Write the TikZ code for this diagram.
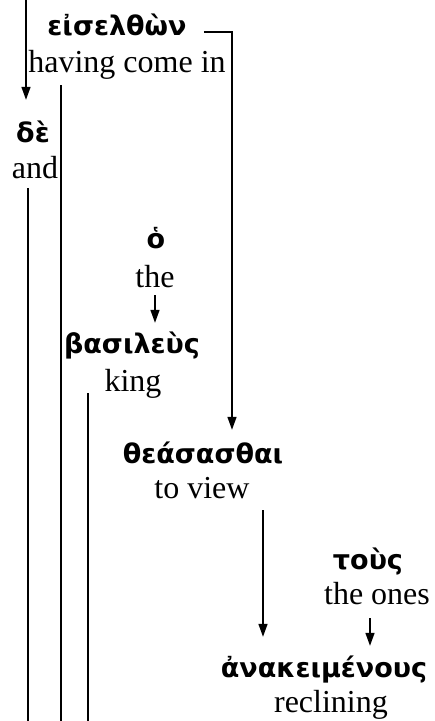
\documentclass[tikz,border=0pt]{standalone}
\usepackage{fontspec}
\setmainfont{Liberation Serif}
\newfontfamily\greekfont{DejaVu Sans}
\usetikzlibrary{arrows.meta}

\begin{document}
\begin{tikzpicture}[x=1pt,y=-1pt,
  gr/.style={inner sep=0pt,anchor=base,text height=20pt,text depth=6pt,
    font=\greekfont\bfseries\fontsize{27}{27}\selectfont},
  en/.style={inner sep=0pt,anchor=base,text height=22pt,text depth=7pt,
    font=\fontsize{32}{32}\selectfont},
  link/.style={line width=1.5pt},
  arr/.style={line width=1.5pt,-{Triangle[length=13pt,width=9pt]}}]
\useasboundingbox (0,0) rectangle (435,721);
\coordinate (top) at (26,0);
\coordinate (bottom) at (0,721);

\node[gr] (eisG) at (117,35) {εἰσελθὼν};
\node[en] (eisE) at (127,72) {having come in};

\node[gr] (deG) at (33,142) {δὲ};
\node[en] (deE) at (35,178) {and};

\node[gr] (hoG) at (156,248) {ὁ};
\node[en] (hoE) at (155,287) {the};

\node[gr] (basG) at (132,353) {βασιλεὺς};
\node[en] (basE) at (133,391) {king};

\node[gr] (theG) at (203,463) {θεάσασθαι};
\node[en] (theE) at (202,498) {to view};

\node[gr] (touG) at (368,569) {τοὺς};
\node[en] (touE) at (377,604) {the ones};

\node[gr] (anaG) at (324,677) {ἀνακειμένους};
\node[en] (anaE) at (331,712) {reclining};

\draw[arr] (top) -- ([yshift=22pt]top |- deG.north);
\draw[arr] ([xshift=17pt,yshift=-4pt]eisG.east) -| ([xshift=29pt,yshift=13pt]theG.north);
\draw[link] ([xshift=-66pt,yshift=-6pt]eisE.south) -- ([xshift=-66pt]eisE.south |- bottom);
\draw[link] ([xshift=-7pt,yshift=-3pt]deE.south) -- ([xshift=-7pt]deE.south |- bottom);
\draw[arr] ([yshift=-1pt]hoE.south) -- ([yshift=10pt]hoE.south |- basG.north);
\draw[link] ([xshift=-45pt,yshift=5pt]basE.south) -- ([xshift=-45pt]basE.south |- bottom);
\draw[arr] ([xshift=61pt,yshift=-5pt]theE.south) -- ([xshift=61pt,yshift=20pt]theE.south |- anaG.north);
\draw[arr] ([xshift=-7pt,yshift=-7pt]touE.south) -- ([xshift=-7pt,yshift=11pt]touE.south |- anaG.north);
\end{tikzpicture}
\end{document}
